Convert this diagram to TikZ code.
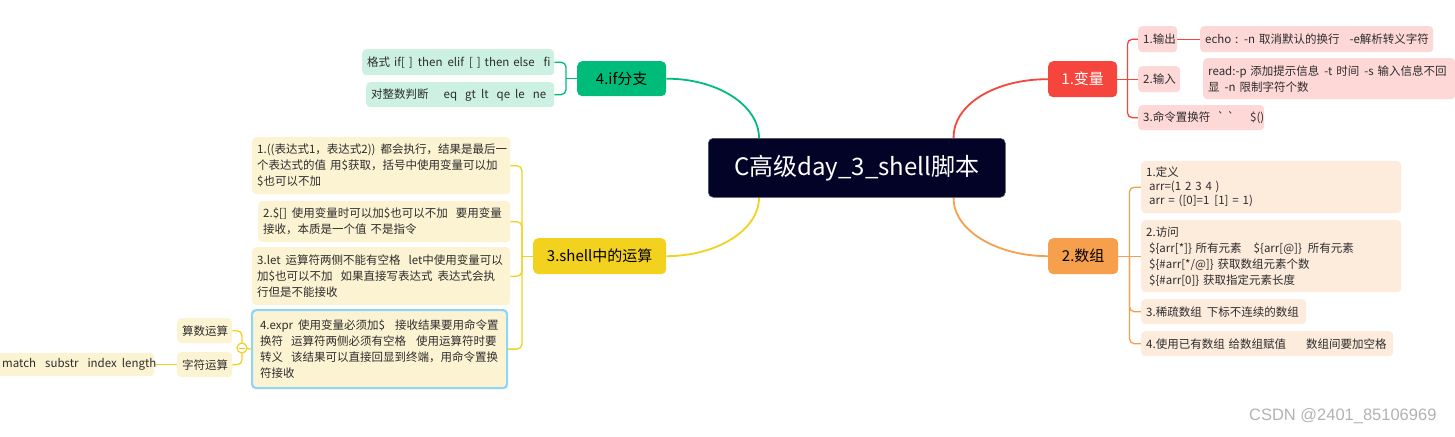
\documentclass[tikz,border=0pt]{standalone}
\usepackage{fontspec}
\setmainfont{Noto Sans CJK SC}
\newfontfamily\nomap{Noto Sans CJK SC}
\newfontfamily\wmfont{Liberation Sans}
\usetikzlibrary{backgrounds}
\newcommand\oneline[1]{\mbox{#1}}
\newcommand\gp[1]{\hspace{#1pt}}
\definecolor{cnavy}{RGB}{3,3,40}
\definecolor{cred}{RGB}{245,69,61}
\definecolor{credl}{RGB}{253,216,214}
\definecolor{corg}{RGB}{246,160,77}
\definecolor{corgl}{RGB}{253,235,220}
\definecolor{cgrn}{RGB}{0,188,123}
\definecolor{cgrnl}{RGB}{204,241,227}
\definecolor{cyel}{RGB}{243,209,31}
\definecolor{cyell}{RGB}{252,243,210}
\definecolor{cblue}{RGB}{143,213,250}
\definecolor{ctext}{RGB}{45,45,45}
\tikzset{
  fx/.code 2 args={\pgfmathsetmacro\fxtw{#1-10}\edef\fxtmp{\noexpand\tikzset{minimum width=#1pt,minimum height=#2pt,text width=\fxtw pt}}\fxtmp},
  leaf/.style={rounded corners=4pt, anchor=north west, inner xsep=5pt, inner ysep=0pt,
    align=left, font=\fontsize{11.5}{16}\selectfont, text=ctext},
  mainnode/.style={rounded corners=5pt, anchor=north west, inner xsep=5pt, inner ysep=0pt,
    align=center, font=\fontsize{15}{18}\selectfont},
  link/.style={line width=1.8pt},
  brk/.style={line width=1.3pt, rounded corners=5pt},
}
\begin{document}
\begin{tikzpicture}[x=1pt,y=-1pt]
\useasboundingbox (0,0) rectangle (1455,436);

% central
\node[mainnode, fill=cnavy, draw=cnavy!70!white, line width=0.6pt, fx={297}{59},
  text=white, font=\fontsize{24}{28}\selectfont] (c) at (708,138) {C高级day\_3\_shell脚本};

% 1. 变量
\node[mainnode, fill=cred, text=white, fx={69}{36}] (v1) at (1048,61) {1.变量};
\node[leaf, fill=credl, fx={39}{26}] (v1a) at (1138,26) {1.输出};
\node[leaf, fill=credl, fx={233}{26}] (v1ae) at (1200,26) {\oneline{echo : -n 取消默认的换行\gp{10}-e解析转义字符}};
\node[leaf, fill=credl, fx={42}{26}] (v1b) at (1138,66) {2.输入};
\node[leaf, fill=credl, fx={252}{41}] (v1be) at (1203,58) {\oneline{read:-p 添加提示信息\gp{5}-t 时间\gp{5}-s 输入信息不回}\\\oneline{显\gp{5}-n 限制字符个数}};
\node[leaf, fill=credl, fx={126}{25}] (v1c) at (1138,105) {\oneline{3.命令置换符\gp{7}{\nomap`}\gp{3}{\nomap`}\gp{16}\$()}};

% 2. 数组
\node[mainnode, fill=corg, text=black, fx={70}{36}] (v2) at (1048,238) {2.数组};
\node[leaf, fill=corgl, fx={260}{52}, font=\fontsize{11.5}{14}\selectfont] (v2a) at (1141,161)
  {\oneline{1.定义}\\\oneline{\gp{3}arr=(1 2 3 4 )}\\\oneline{\gp{3}arr = ([0]=1\gp{5}[1] = 1)}};
\node[leaf, fill=corgl, fx={260}{72}] (v2b) at (1141,220)
  {\oneline{2.访问}\\\oneline{\gp{3}\$\{arr[*]\} 所有元素\gp{12}\$\{arr[@]\}\gp{6}所有元素}\\\oneline{\gp{3}\$\{\#arr[*/@]\} 获取数组元素个数}\\\oneline{\gp{3}\$\{\#arr[0]\} 获取指定元素长度}};
\node[leaf, fill=corgl, fx={165}{25}] (v2c) at (1141,299) {\oneline{3.稀疏数组\gp{5}下标不连续的数组}};
\node[leaf, fill=corgl, fx={252}{25}] (v2d) at (1141,331) {\oneline{4.使用已有数组 给数组赋值\gp{20}数组间要加空格}};

% 4. if
\node[mainnode, fill=cgrn, text=black, fx={89}{35}] (v4) at (577,61) {4.if分支};
\node[leaf, fill=cgrnl, fx={192}{26}] (v4a) at (362,49) {\oneline{格式\gp{4}if[\gp{4}]\gp{5}then\gp{5}elif\gp{5}[\gp{4}] then else\gp{9}fi}};
\node[leaf, fill=cgrnl, fx={188}{25}] (v4b) at (366,82) {\oneline{对整数判断\gp{15}eq\gp{8}gt\gp{5}lt\gp{8}qe\gp{5}le\gp{8}ne}};

% 3. shell
\node[mainnode, fill=cyel, text=black, fx={133}{36}] (v3) at (533,238) {3.shell中的运算};
\node[leaf, fill=cyell, fx={258}{57}] (v3a) at (252,137)
  {\oneline{1.((表达式1，表达式2))\gp{5}都会执行，结果是最后一}\\\oneline{个表达式的值\gp{4}用\$获取，括号中使用变量可以加}\\\oneline{\$也可以不加}};
\node[leaf, fill=cyell, fx={252}{41}] (v3b) at (258,201)
  {\oneline{2.\$[]\gp{5}使用变量时可以加\$也可以不加\gp{8}要用变量}\\\oneline{接收，本质是一个值 不是指令}};
\node[leaf, fill=cyell, fx={258}{58}] (v3c) at (252,247)
  {\oneline{3.let\gp{5}运算符两侧不能有空格\gp{8}let中使用变量可以}\\\oneline{加\$也可以不加\gp{8}如果直接写表达式\gp{5}表达式会执}\\\oneline{行但是不能接收}};
\node[leaf, fill=cyell, draw=cblue, line width=2.2pt, fx={255}{78}, inner xsep=8pt, text width=239pt] (v3d) at (251,309)
  {\oneline{4.expr\gp{5}使用变量必须加\$\gp{10}接收结果要用命令置}\\\oneline{换符\gp{8}运算符两侧必须有空格\gp{10}使用运算符时要}\\\oneline{转义\gp{8}该结果可以直接回显到终端，用命令置换}\\\oneline{符接收}};
\node[leaf, fill=cyell, fx={55}{25}] (v3da) at (177,318) {算数运算};
\node[leaf, fill=cyell, fx={55}{25}] (v3db) at (177,352) {字符运算};
\node[leaf, fill=cyell, fx={157}{23}] (v3dbm) at (-3,353) {\oneline{match\gp{9}substr\gp{9}index\gp{5}length}};
\node[circle, draw=cyel, fill=white, line width=1.2pt, inner sep=0pt, minimum size=10pt] (tog) at (242,348) {};
\draw[cyel!80!gray, line width=0.9pt] ([xshift=-2.6pt]tog.center) -- ([xshift=2.6pt]tog.center);

% watermark
\node[font=\wmfont\fontsize{16.5}{18}\selectfont, text=gray!60, anchor=east] (wm) at (1440,416) {CSDN @2401\_85106969};

\begin{scope}[on background layer]
  % main curves
  \draw[link, cred] ([xshift=-52pt]c.north east) .. controls (953,104) and (996,79) .. (v1.west);
  \draw[link, corg] ([xshift=-52pt]c.south east) .. controls (953,230) and (996,256) .. (v2.west);
  \draw[link, cgrn] (v4.east) .. controls (717,78.5) and (759,105) .. ([xshift=51pt]c.north west);
  \draw[link, cyel] (v3.east) .. controls (717,256) and (759,230) .. ([xshift=51pt]c.south west);
  % 1 bracket
  \draw[brk, cred] (v1.east) -- ++(10,0) coordinate (j1);
  \draw[brk, cred] (j1) |- (v1a.west);
  \draw[brk, cred] (j1) -- (v1b.west);
  \draw[brk, cred] (j1) |- (v1c.west);
  \draw[brk, cred] (v1a.east) -- (v1ae.west);
  % 2 bracket
  \draw[brk, corg] (v2.east) -- ++(11,0) coordinate (j2);
  \draw[brk, corg] (j2) |- (v2a.west);
  \draw[brk, corg] (j2) -- (v2b.west);
  \draw[brk, corg] (j2) |- (v2c.west);
  \draw[brk, corg] (j2) |- (v2d.west);
  % 4 bracket
  \draw[brk, cgrn] (v4.west) -- ++(-11,0) coordinate (j4);
  \draw[brk, cgrn] (j4) |- (v4a.east);
  \draw[brk, cgrn] (j4) |- (v4b.east);
  % 3 bracket
  \draw[brk, cyel] (v3.west) -- ++(-11,0) coordinate (j3);
  \draw[brk, cyel] (j3) |- (v3a.east);
  \draw[brk, cyel] (j3) |- (v3b.east);
  \draw[brk, cyel] (j3) |- (v3c.east);
  \draw[brk, cyel] (j3) |- (v3d.east);
  \draw[brk, cyel] (v3d.west) -- (tog.center);
  \draw[brk, cyel] (v3da.east) -| (tog.center);
  \draw[brk, cyel] (v3db.east) -| (tog.center);
  \draw[brk, cyel] (v3db.west) -- (v3dbm.east);
\end{scope}
\end{tikzpicture}
\end{document}
